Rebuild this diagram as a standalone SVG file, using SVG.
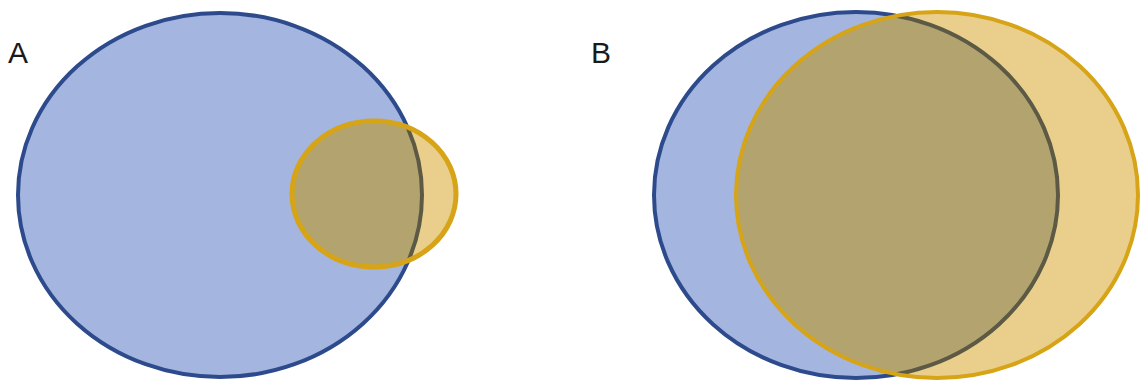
<svg xmlns="http://www.w3.org/2000/svg" width="1145" height="391" viewBox="0 0 1145 391">
<defs>
<style>
.lbl{font-family:"Liberation Sans",Arial,sans-serif;font-size:30px;fill:#1a1a1a}
.blue{fill:#a4b6e0;stroke:#2d4b8c;stroke-width:4}
.goldfill{fill:#e9cf8b;stroke:none}
.ovl{fill:#b3a46f;stroke:#5c5a44;stroke-width:4}
.goldstroke{fill:none;stroke:#d6a416;stroke-width:4}
</style>
<clipPath id="clipA"><ellipse cx="374" cy="194" rx="82" ry="73"/></clipPath>
<clipPath id="clipB"><ellipse cx="937" cy="195" rx="201" ry="183"/></clipPath>
</defs>
<rect width="1145" height="391" fill="#ffffff"/>
<g id="panelA">
  <text class="lbl" x="8" y="63">A</text>
  <g id="A-set1"><ellipse class="blue" cx="220" cy="195" rx="202" ry="182"/></g>
  <g id="A-set2">
    <ellipse class="goldfill" cx="374" cy="194" rx="82" ry="73"/>
    <ellipse class="ovl" cx="220" cy="195" rx="202" ry="182" clip-path="url(#clipA)"/>
    <ellipse class="goldstroke" cx="374" cy="194" rx="82" ry="73" style="stroke-width:5"/>
  </g>
</g>
<g id="panelB">
  <text class="lbl" x="591" y="63">B</text>
  <g id="B-set1"><ellipse class="blue" cx="856" cy="195" rx="202" ry="183"/></g>
  <g id="B-set2">
    <ellipse class="goldfill" cx="937" cy="195" rx="201" ry="183"/>
    <ellipse class="ovl" cx="856" cy="195" rx="202" ry="183" clip-path="url(#clipB)"/>
    <ellipse class="goldstroke" cx="937" cy="195" rx="201" ry="183"/>
  </g>
</g>
<g id="connectors"/>
</svg>
